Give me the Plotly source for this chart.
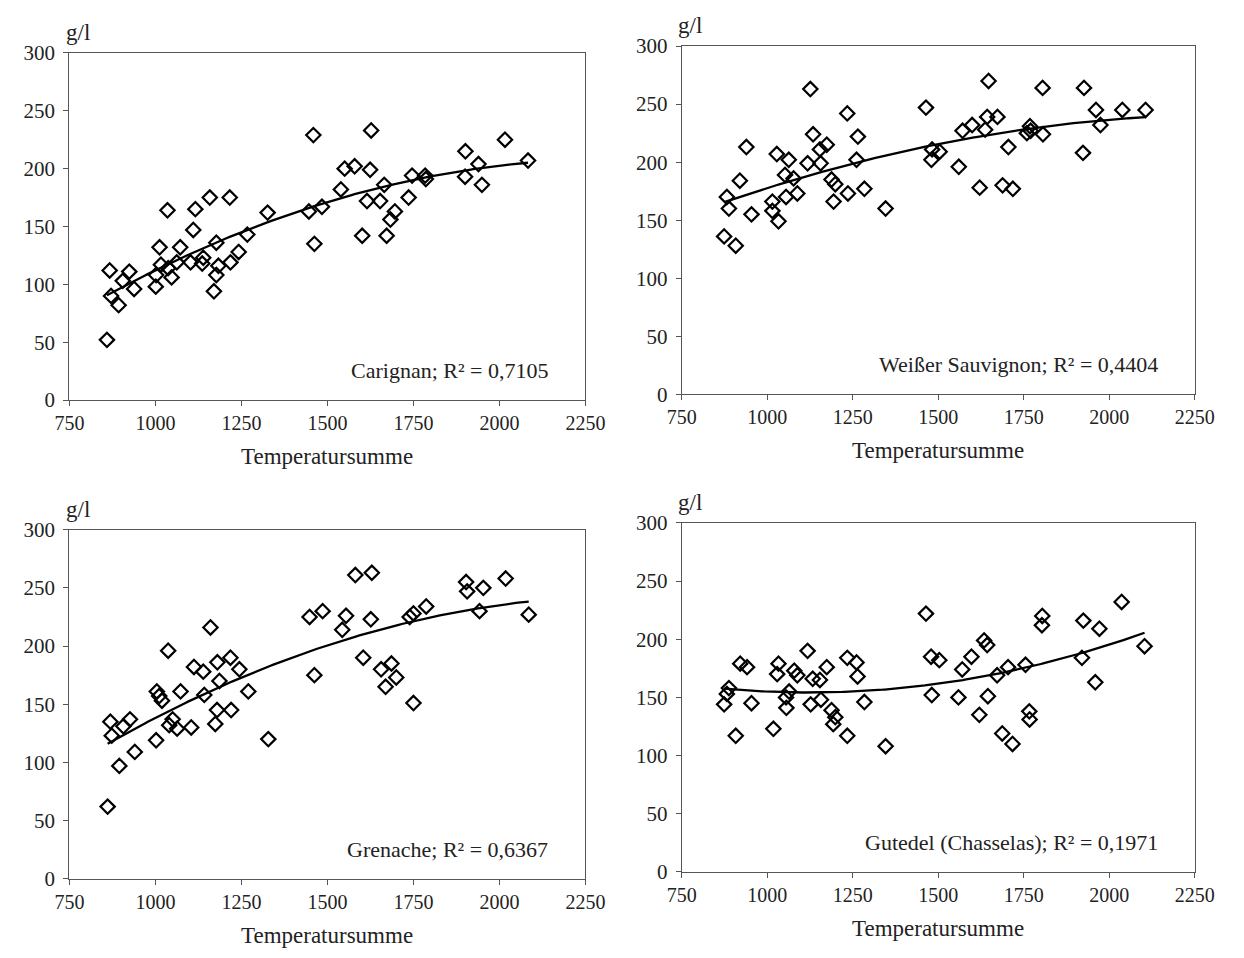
import numpy as np
import plotly.graph_objects as go

# ---------------- data ----------------
carignan_x = [859, 867, 871, 893, 905, 924, 938, 1001, 1002, 1012, 1016, 1035, 1037, 1047, 1062,
              1072, 1102, 1110, 1116, 1136, 1139, 1158, 1170, 1177, 1183, 1177, 1216, 1218, 1242,
              1267, 1326, 1446, 1459, 1462, 1484, 1539, 1550, 1579, 1601, 1615, 1624, 1627, 1653,
              1665, 1672, 1683, 1696, 1736, 1746, 1784, 1786, 1901, 1900, 1939, 1949, 2016, 2083]
carignan_y = [52, 112, 90, 82, 103, 111, 96, 98, 108, 132, 117, 164, 114, 106, 119,
              132, 119, 147, 165, 118, 123, 175, 94, 108, 116, 136, 175, 119, 128,
              143, 162, 163, 229, 135, 167, 182, 200, 202, 142, 172, 199, 233, 172,
              186, 142, 156, 163, 175, 194, 194, 191, 215, 193, 204, 186, 225, 207]

sauvignon_x = [874, 908, 882, 888, 920, 939, 954, 1015, 1015, 1033, 1028, 1063, 1052, 1077, 1055,
               1088, 1126, 1134, 1118, 1154, 1174, 1156, 1188, 1199, 1194, 1234, 1236, 1265, 1261,
               1284, 1346, 1464, 1482, 1504, 1480, 1560, 1571, 1599, 1621, 1647, 1643, 1673, 1637,
               1688, 1705, 1718, 1768, 1759, 1770, 1805, 1806, 1926, 1923, 1961, 1974, 2038, 2106]
sauvignon_y = [136, 128, 170, 160, 184, 213, 155, 166, 158, 149, 207, 202, 189, 186, 170,
               173, 263, 224, 199, 211, 215, 199, 185, 181, 166, 242, 173, 222, 202,
               177, 160, 247, 211, 209, 202, 196, 227, 232, 178, 270, 239, 239, 228,
               180, 213, 177, 231, 225, 227, 264, 224, 264, 208, 245, 232, 245, 245]

grenache_x = [861, 873, 869, 895, 907, 926, 940, 1002, 1004, 1011, 1019, 1037, 1040, 1050, 1063,
              1073, 1104, 1112, 1139, 1142, 1160, 1174, 1179, 1180, 1186, 1218, 1220, 1244, 1270,
              1328, 1448, 1462, 1486, 1543, 1554, 1581, 1604, 1626, 1629, 1656, 1686, 1669, 1700,
              1739, 1750, 1750, 1787, 1903, 1906, 1953, 1942, 2018, 2085]
grenache_y = [62, 123, 135, 97, 131, 137, 109, 119, 161, 157, 153, 196, 132, 137, 129,
              161, 130, 182, 178, 158, 216, 133, 145, 186, 170, 190, 145, 180, 161,
              120, 225, 175, 230, 214, 226, 261, 190, 223, 263, 180, 185, 165, 173,
              225, 228, 151, 234, 255, 247, 250, 230, 258, 227]

gutedel_x = [888, 882, 874, 908, 921, 941, 954, 1018, 1033, 1029, 1055, 1056, 1064, 1079, 1088,
             1118, 1127, 1133, 1154, 1157, 1174, 1188, 1199, 1193, 1234, 1261, 1264, 1234, 1284,
             1346, 1464, 1479, 1503, 1481, 1559, 1570, 1597, 1620, 1634, 1643, 1645, 1672, 1704,
             1687, 1717, 1755, 1766, 1767, 1804, 1803, 1920, 1924, 1959, 1971, 2036, 2103]
gutedel_y = [158, 153, 144, 117, 179, 176, 145, 123, 179, 170, 150, 141, 155, 173, 169,
             190, 144, 166, 165, 148, 176, 139, 133, 127, 184, 180, 168, 117, 146,
             108, 222, 185, 182, 152, 150, 174, 185, 135, 199, 195, 151, 169, 176,
             119, 110, 178, 138, 131, 220, 212, 184, 216, 163, 209, 232, 194]

labels = ["Carignan; R² = 0,7105", "Weißer Sauvignon; R² = 0,4404",
          "Grenache; R² = 0,6367", "Gutedel (Chasselas); R² = 0,1971"]
x_ticks = [750, 1000, 1250, 1500, 1750, 2000, 2250]
y_ticks = [0, 50, 100, 150, 200, 250, 300]
y_unit = "g/l"
x_title = "Temperatursumme"

series = [(carignan_x, carignan_y), (sauvignon_x, sauvignon_y),
          (grenache_x, grenache_y), (gutedel_x, gutedel_y)]

# ---------------- layout geometry ----------------
W, H = 1244, 958
# (left, right, top, bottom) in pixels
boxes = [(56, 587, 42, 398), (686, 1214, 35, 392),
         (56, 587, 531, 889), (686, 1214, 524, 882)]

FONT = "Liberation Serif, Times New Roman, serif"
TXT = "#222222"
AX = "#555555"

fig = go.Figure()
layout = dict(width=W, height=H, margin=dict(l=0, r=0, t=0, b=0), autosize=False,
              paper_bgcolor="white", plot_bgcolor="white", showlegend=False,
              font=dict(family=FONT, size=20, color=TXT))
annotations = []

for i, ((xs, ys), (l, r, t, b)) in enumerate(zip(series, boxes)):
    k = "" if i == 0 else str(i + 1)
    xa, ya = "x" + k, "y" + k
    fig.add_trace(go.Scatter(x=xs, y=ys, mode="markers", xaxis=xa, yaxis=ya,
                             marker=dict(symbol="diamond-open", size=11, color="black",
                                         line=dict(width=2.2, color="black")),
                             hoverinfo="x+y"))
    xa_arr = np.array(xs, float)
    ya_arr = np.array(ys, float)
    c = np.polyfit(xa_arr, ya_arr, 2)
    xf = np.linspace(xa_arr.min(), xa_arr.max(), 200)
    fig.add_trace(go.Scatter(x=xf, y=np.polyval(c, xf), mode="lines", xaxis=xa, yaxis=ya,
                             line=dict(color="black", width=2.3), hoverinfo="skip"))

    layout["xaxis" + k] = dict(domain=[l / W, r / W], range=[750, 2250], anchor=ya,
                              tickvals=x_ticks, ticktext=[str(v) for v in x_ticks],
                              showgrid=False, zeroline=False, showline=True, linecolor=AX,
                              linewidth=1.2, mirror=True, ticks="outside", ticklen=5,
                              tickcolor=AX, tickfont=dict(family=FONT, size=20, color=TXT))
    layout["yaxis" + k] = dict(domain=[1 - b / H, 1 - t / H], range=[0, 300], anchor=xa,
                              tickvals=y_ticks, ticktext=[str(v) for v in y_ticks],
                              showgrid=False, zeroline=False, showline=True, linecolor=AX,
                              linewidth=1.2, mirror=True, ticks="outside", ticklen=5,
                              ticklabelstandoff=4,
                              tickcolor=AX, tickfont=dict(family=FONT, size=21, color=TXT))

    # series label with R²
    annotations.append(dict(x=(r - 36) / W, y=1 - (b - 30) / H, xref="paper", yref="paper",
                            text=labels[i], showarrow=False, xanchor="right", yanchor="middle",
                            font=dict(family=FONT, size=22, color=TXT)))
    # unit label
    annotations.append(dict(x=(l - 6) / W, y=1 - (t - 21) / H, xref="paper", yref="paper",
                            text=y_unit, showarrow=False, xanchor="left", yanchor="middle",
                            font=dict(family=FONT, size=23, color=TXT)))
    # x-axis title
    annotations.append(dict(x=(l + r) / 2 / W, y=1 - (b + 58) / H, xref="paper", yref="paper",
                            text=x_title, showarrow=False, xanchor="center", yanchor="middle",
                            font=dict(family=FONT, size=23, color=TXT)))

layout["annotations"] = annotations
fig.update_layout(**layout)
fig.write_html("out.html")
